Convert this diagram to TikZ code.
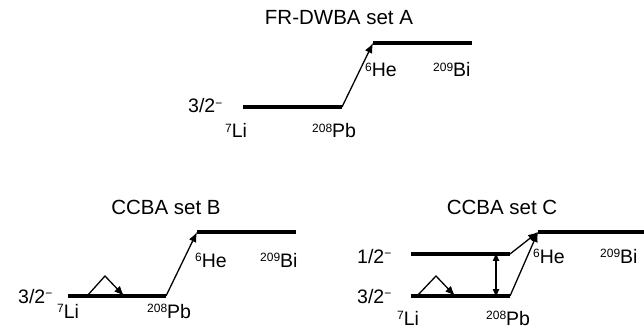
\documentclass[tikz,border=0pt]{standalone}
\usepackage{fontspec}
\setmainfont{Liberation Sans}
\usetikzlibrary{arrows.meta}
\begin{document}
\begin{tikzpicture}[x=1pt,y=-1pt,
  level/.style={line width=3.3pt},
  trans/.style={line width=1.3pt,-{Latex[length=10pt,width=8pt]}},
  both/.style={line width=1.3pt,{Latex[length=9pt,width=7pt]}-{Latex[length=9pt,width=7pt]}},
  lab/.style={font=\fontsize{19.5}{22}\selectfont,inner sep=0pt,anchor=base west},
  ttl/.style={font=\fontsize{20.5}{23}\selectfont,inner sep=0pt,anchor=base}]
\useasboundingbox (0,0) rectangle (644,328);
\newcommand{\mns}{\raisebox{5.5pt}{\fontsize{12}{12}\selectfont −}}
\newcommand{\sps}[1]{\raisebox{5.5pt}{\fontsize{12}{12}\selectfont #1}}
% ---------- set A
\node[ttl] (tA) at (339,25) {FR-DWBA set A};
\coordinate (A1) at (243,107); \coordinate (A2) at (342,107);
\coordinate (A3) at (373,43);  \coordinate (A4) at (472,43);
\draw[level] (A1) -- (A2);
\draw[level] (A3) -- (A4);
\draw[trans] (A2) -- (A3);
\node[lab] (sA) at (188,113) {3/2\mns};
\node[lab] (liA) at (225,138) {\sps{7}Li};
\node[lab] (pbA) at (312,138) {\sps{208}Pb};
\node[lab] (heA) at (365,77) {\sps{6}He};
\node[lab] (biA) at (433,77) {\sps{209}Bi};
% ---------- set B
\node[ttl] (tB) at (166,215) {CCBA set B};
\coordinate (B1) at (68,296); \coordinate (B2) at (166,296);
\coordinate (B3) at (197,232); \coordinate (B4) at (296,232);
\coordinate (Bt1) at (87,296); \coordinate (Bt2) at (105,276); \coordinate (Bt3) at (124,296);
\draw[level] (B1) -- (B2);
\draw[level] (B3) -- (B4);
\draw[trans] (B2) -- (B3);
\draw[trans] (Bt1) -- (Bt2) -- (Bt3);
\node[lab] (sB) at (18,303) {3/2\mns};
\node[lab] (liB) at (57,318) {\sps{7}Li};
\node[lab] (pbB) at (147,318) {\sps{208}Pb};
\node[lab] (heB) at (195,267) {\sps{6}He};
\node[lab] (biB) at (260,267) {\sps{209}Bi};
% ---------- set C
\node[ttl] (tC) at (502,215) {CCBA set C};
\coordinate (C1) at (411,254); \coordinate (C2) at (510,254);
\coordinate (C5) at (411,296); \coordinate (C6) at (510,296);
\coordinate (C3) at (538,232); \coordinate (C4) at (644,232);
\coordinate (Cd1) at (496,254); \coordinate (Cd2) at (496,296);
\coordinate (Ct1) at (417,296); \coordinate (Ct2) at (436,276); \coordinate (Ct3) at (455,296);
\draw[level] (C1) -- (C2);
\draw[level] (C5) -- (C6);
\draw[level] (C3) -- (C4);
\draw[trans] (C2) -- (C3);
\draw[trans] (C6) -- (C3);
\draw[both] ([yshift=2pt]Cd1) -- ([yshift=-2pt]Cd2);
\draw[trans] (Ct1) -- (Ct2) -- (Ct3);
\node[lab] (hC) at (357,263) {1/2\mns};
\node[lab] (sC) at (357,303) {3/2\mns};
\node[lab] (liC) at (397,325) {\sps{7}Li};
\node[lab] (pbC) at (486,325) {\sps{208}Pb};
\node[lab] (heC) at (533,263) {\sps{6}He};
\node[lab] (biC) at (600,263) {\sps{209}Bi};
\end{tikzpicture}
\end{document}
